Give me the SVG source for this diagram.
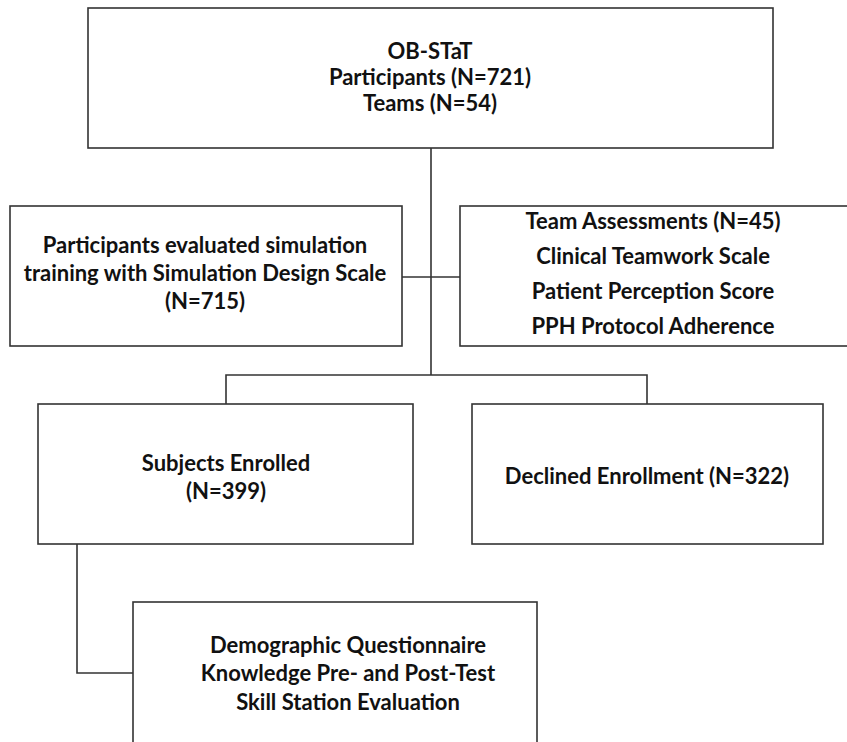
<svg xmlns="http://www.w3.org/2000/svg" width="847" height="742" viewBox="0 0 847 742">
<style>
.box{fill:#fff;stroke:#333;stroke-width:1.6}
.ln{fill:none;stroke:#333;stroke-width:1.6}
text{font-family:Lato,"Open Sans","Liberation Sans",sans-serif;font-weight:bold;font-size:22px;fill:#111;text-anchor:middle}
</style>
<rect width="847" height="742" fill="#fff"/>
<g id="connectors">
<path class="ln" d="M431 148 V375"/>
<path class="ln" d="M402 277 H460"/>
<path class="ln" d="M226 404 V375 H647 V404"/>
<path class="ln" d="M77 544 V673 H133"/>
</g>
<g id="n-obstat">
<rect class="box" x="88" y="8" width="685" height="140"/>
<text x="430" y="59">OB-STaT</text>
<text x="430" y="85">Participants (N=721)</text>
<text x="430" y="111">Teams (N=54)</text>
</g>
<g id="n-sds">
<rect class="box" x="10" y="206" width="392" height="140"/>
<text x="205" y="253">Participants evaluated simulation</text>
<text x="205" y="281">training with Simulation Design Scale</text>
<text x="205" y="309">(N=715)</text>
</g>
<g id="n-team">
<rect class="box" x="460" y="206" width="395" height="140"/>
<text x="653" y="229">Team Assessments (N=45)</text>
<text x="653" y="264">Clinical Teamwork Scale</text>
<text x="653" y="299">Patient Perception Score</text>
<text x="653" y="334">PPH Protocol Adherence</text>
</g>
<g id="n-enrolled">
<rect class="box" x="38" y="404" width="375" height="140"/>
<text x="226" y="471">Subjects Enrolled</text>
<text x="226" y="499">(N=399)</text>
</g>
<g id="n-declined">
<rect class="box" x="472" y="404" width="351" height="140"/>
<text x="647" y="484">Declined Enrollment (N=322)</text>
</g>
<g id="n-measures">
<rect class="box" x="133" y="602" width="404" height="150"/>
<text x="348" y="653">Demographic Questionnaire</text>
<text x="348" y="681">Knowledge Pre- and Post-Test</text>
<text x="348" y="710">Skill Station Evaluation</text>
</g>
</svg>
